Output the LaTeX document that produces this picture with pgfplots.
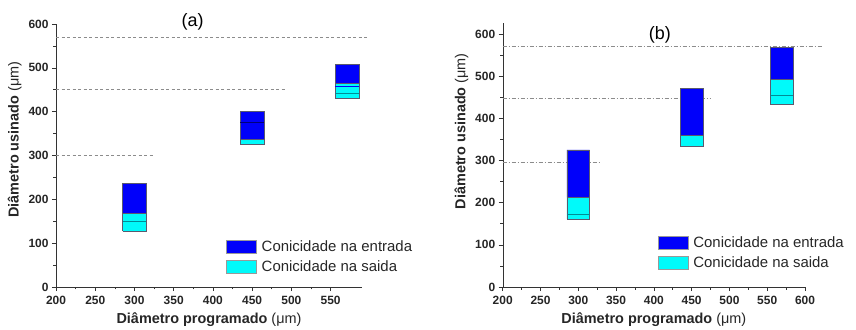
\documentclass[border=0pt]{standalone}
\usepackage{fontspec}
\setmainfont{Liberation Sans}
\usepackage{pgfplots}
\pgfplotsset{compat=1.18}
\definecolor{cblue}{RGB}{0,0,250}
\definecolor{ccyan}{RGB}{0,250,250}
\definecolor{cteal}{RGB}{0,140,150}
\definecolor{cnavy}{RGB}{0,0,120}
\definecolor{cedge}{RGB}{90,90,110}
\pgfplotsset{
  panel/.style={
    scale only axis,
    axis x line*=bottom, axis y line*=left,
    axis line style={-, black!80},
    clip=false, no markers,
    ytick={0,100,...,600},
    minor x tick num=1, minor y tick num=1,
    tick align=outside,
    major tick length=4bp, minor tick length=2.5bp,
    tick style={black!80, line width=0.6bp},
    tick label style={font=\fontsize{12}{12}\selectfont\bfseries, text=black!85},
    xticklabel style={yshift=-2bp},
    /pgf/number format/assume math mode=true,
    label style={font=\fontsize{14.5}{14.5}\selectfont, text=black!85},
    xlabel={\textbf{Diâmetro programado} (μm)},
    ylabel={\textbf{Diâmetro usinado} (μm)},
    xlabel style={yshift=-1bp},
    legend style={draw=none, fill=none, font=\fontsize{15}{15}\selectfont,
      inner sep=0pt, row sep=6bp, legend cell align=left,
      nodes={inner xsep=5bp, inner ysep=0pt, text=black!85}},
    legend image code/.code={\path[##1] (0bp,-6.8bp) rectangle (30bp,6.8bp);},
  },
  bx/.style={fill=cblue, draw=cedge, line width=0.6bp, forget plot},
  cy/.style={fill=ccyan, draw=cedge, line width=0.6bp, forget plot},
  ref/.style={black!45, line width=0.6bp, dash pattern=on 3bp off 2.5bp, forget plot},
  refb/.style={black!45, line width=0.6bp, dash pattern=on 4bp off 2bp on 1bp off 2bp, forget plot},
}
\begin{document}
\begin{tikzpicture}
\useasboundingbox (0,0) rectangle (856bp,330bp);
% ---------- (a) ----------
\begin{axis}[panel, at={(56bp,43bp)}, anchor=south west,
  width=306bp, height=263bp, xmin=200, xmax=590, ymin=0, ymax=600,
  xtick={200,250,...,550},
  ylabel style={at={(ticklabel cs:0.56)}},
  legend style={at={(0.556,0.18)}, anchor=north west}]
\addplot[ref] coordinates {(200,570) (596,570)};
\addplot[ref] coordinates {(200,450) (492,450)};
\addplot[ref] coordinates {(200,300) (326,300)};
% 300
\addplot[cy] coordinates {(285,128) (315,128) (315,169) (285,169) (285,128)};
\addplot[bx] coordinates {(285,169) (315,169) (315,237) (285,237) (285,169)};
\addplot[cteal, line width=0.8bp, forget plot] coordinates {(285,149) (315,149)};
% 450
\addplot[cy] coordinates {(435,325) (465,325) (465,337) (435,337) (435,325)};
\addplot[bx] coordinates {(435,337) (465,337) (465,400) (435,400) (435,337)};
\addplot[cnavy, line width=0.8bp, forget plot] coordinates {(435,375) (465,375)};
% 570
\addplot[cy] coordinates {(556,431) (586,431) (586,465) (556,465) (556,431)};
\addplot[bx] coordinates {(556,465) (586,465) (586,507) (556,507) (556,465)};
\addplot[cblue, line width=1.2bp, forget plot] coordinates {(556,458) (586,458)};
\addplot[cteal, line width=0.8bp, forget plot] coordinates {(556,441) (586,441)};
\addlegendimage{fill=cblue, draw=black!40}
\addlegendentry{Conicidade na entrada}
\addlegendimage{fill=ccyan, draw=black!40}
\addlegendentry{Conicidade na saida}
\node[font=\fontsize{18}{18}\selectfont] at (axis cs:374,606) {(a)};
\end{axis}
% ---------- (b) ----------
\begin{axis}[panel, at={(502.7bp,43bp)}, anchor=south west,
  width=302.3bp, height=264bp, xmin=200, xmax=600, ymin=0, ymax=626,
  xtick={200,250,...,600},
  ylabel style={at={(ticklabel cs:0.59)}},
  legend style={at={(0.513,0.195)}, anchor=north west}]
\addplot[refb] coordinates {(200,570) (623,570)};
\addplot[refb] coordinates {(200,448) (476,448)};
\addplot[refb] coordinates {(200,296) (329,296)};
% 300
\addplot[cy] coordinates {(285,161) (315,161) (315,213) (285,213) (285,161)};
\addplot[bx] coordinates {(285,213) (315,213) (315,325) (285,325) (285,213)};
\addplot[cteal, line width=0.8bp, forget plot] coordinates {(285,172) (315,172)};
% 450
\addplot[cy] coordinates {(435,333) (465,333) (465,360) (435,360) (435,333)};
\addplot[bx] coordinates {(435,360) (465,360) (465,470) (435,470) (435,360)};
% 570
\addplot[cy] coordinates {(554,433) (584,433) (584,492) (554,492) (554,433)};
\addplot[bx] coordinates {(554,492) (584,492) (584,568) (554,568) (554,492)};
\addplot[cteal, line width=0.8bp, forget plot] coordinates {(554,455) (584,455)};
\addlegendimage{fill=cblue, draw=black!40}
\addlegendentry{Conicidade na entrada}
\addlegendimage{fill=ccyan, draw=black!40}
\addlegendentry{Conicidade na saida}
\node[font=\fontsize{18}{18}\selectfont] at (axis cs:408,598) {(b)};
\end{axis}
\end{tikzpicture}
\end{document}
